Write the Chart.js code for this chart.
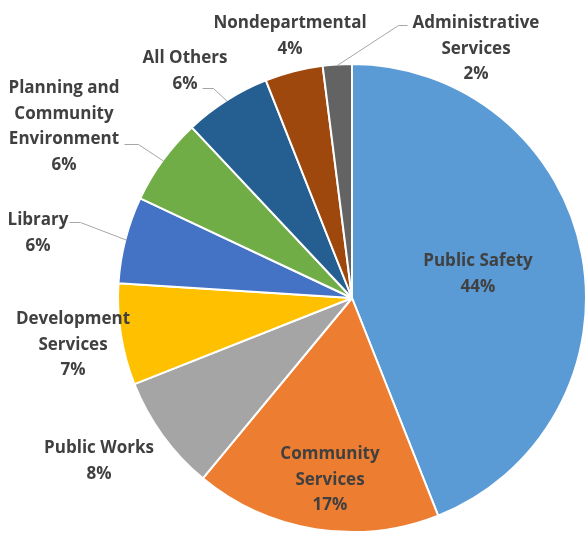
<!DOCTYPE html>
<html>
<head>
<meta charset="utf-8">
<script src="https://cdn.jsdelivr.net/npm/chart.js@4.4.1/dist/chart.umd.min.js"></script>
<style>
  body { margin: 0; background: #fff; }
  #wrap { width: 587px; height: 533px; }
</style>
</head>
<body>
<div id="wrap"><canvas id="budget-pie" width="587" height="533"></canvas></div>
<script>
// budget share by department, clockwise from 12 o'clock
const departments = [
  ["Public Safety"],
  ["Community", "Services"],
  ["Public Works"],
  ["Development", "Services"],
  ["Library"],
  ["Planning and", "Community", "Environment"],
  ["All Others"],
  ["Nondepartmental"],
  ["Administrative", "Services"]
];
const shares = [44, 17, 8, 7, 6, 6, 6, 4, 2];
const sliceColors = ["#5B9BD5", "#ED7D31", "#A5A5A5", "#FFC000", "#4472C4",
                     "#70AD47", "#255E91", "#9E480E", "#636363"];

// where Excel put each data label (centre x, first line y) and the leader elbow
const labelSpots = [
  { x: 478, y: 260 },
  { x: 330, y: 453 },
  { x: 99,  y: 447 },
  { x: 73,  y: 318 },
  { x: 38,  y: 219, lead: [69, 222, 80, 222] },
  { x: 64,  y: 87,  lead: [124, 144, 138, 144] },
  { x: 185, y: 57,  lead: [202, 88, 213, 88] },
  { x: 290, y: 22 },
  { x: 476, y: 22,  lead: [407, 25, 398, 25] }
];

const LINE_H = 25.5;

const pieLabels = {
  id: "pieLabels",
  afterDatasetsDraw(chart) {
    const ctx = chart.ctx;
    const arcs = chart.getDatasetMeta(0).data;
    const total = shares.reduce((a, b) => a + b, 0);
    ctx.save();

    // leader lines
    ctx.strokeStyle = "#A6A6A6";
    ctx.lineWidth = 1;
    labelSpots.forEach((spot, i) => {
      if (!spot.lead) return;
      const arc = arcs[i];
      const mid = (arc.startAngle + arc.endAngle) / 2;
      const r = arc.outerRadius - 1;
      const ex = arc.x + Math.cos(mid) * r;
      const ey = arc.y + Math.sin(mid) * r;
      ctx.beginPath();
      ctx.moveTo(spot.lead[0] + 0.5, spot.lead[1] + 0.5);
      ctx.lineTo(spot.lead[2] + 0.5, spot.lead[3] + 0.5);
      ctx.lineTo(ex, ey);
      ctx.stroke();
    });

    ctx.fillStyle = "#404040";
    ctx.font = "bold 17px 'Open Sans'";
    ctx.textAlign = "center";
    ctx.textBaseline = "middle";
    labelSpots.forEach((spot, i) => {
      const lines = departments[i].concat([Math.round(shares[i] / total * 100) + "%"]);
      lines.forEach((t, k) => ctx.fillText(t, spot.x, spot.y + 1.5 + k * LINE_H));
    });
    ctx.restore();
  }
};

new Chart(document.getElementById("budget-pie"), {
  type: "pie",
  data: {
    labels: departments.map(d => d.join(" ")),
    datasets: [{
      data: shares,
      backgroundColor: sliceColors,
      borderColor: "#FFFFFF",
      borderWidth: 2
    }]
  },
  options: {
    responsive: false,
    animation: false,
    layout: { padding: { left: 117, right: 0, top: 63, bottom: 0 } },
    plugins: {
      legend: { display: false },
      tooltip: { enabled: false }
    }
  },
  plugins: [pieLabels]
});
</script>
</body>
</html>
